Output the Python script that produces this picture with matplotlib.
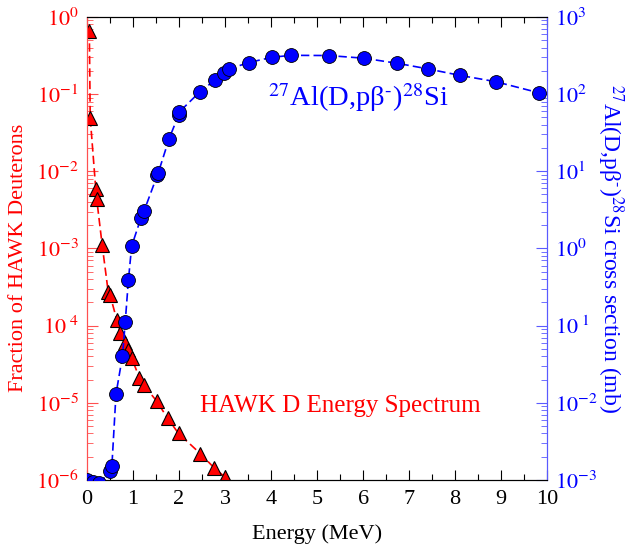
import matplotlib
matplotlib.use("Agg")
from matplotlib import pyplot as plt
from matplotlib import ticker
import numpy as np

plt.rcParams['font.family'] = ['Liberation Serif', 'DejaVu Serif']
plt.rcParams['mathtext.fontset'] = 'stix'

# HAWK deuteron energy spectrum (fraction, left axis)
d_energy = [0.05, 0.07, 0.19, 0.21, 0.33, 0.46, 0.50, 0.65, 0.72, 0.83, 0.90,
            0.97, 1.14, 1.23, 1.52, 1.75, 1.99, 2.46, 2.76, 2.99, 3.5]
d_fraction = [0.66, 0.049, 5.9e-3, 4.4e-3, 1.1e-3, 2.75e-4, 2.5e-4, 1.17e-4,
              8.1e-5, 5.9e-5, 4.8e-5, 3.8e-5, 2.1e-5, 1.7e-5, 1.04e-5, 6.3e-6,
              4.0e-6, 2.2e-6, 1.44e-6, 1.1e-6, 4.5e-7]

# 27Al(D,p beta-)28Si cross section (mb, right axis)
xs_energy = [0.0, 0.13, 0.27, 0.50, 0.54, 0.63, 0.77, 0.83, 0.90, 0.97, 1.17,
             1.24, 1.53, 1.55, 1.78, 1.99, 2.01, 2.46, 2.79, 2.98, 3.08, 3.51,
             4.02, 4.44, 5.25, 6.01, 6.74, 7.41, 8.10, 8.88, 9.82]
xs_mb = [1.0e-3, 9.5e-4, 9.0e-4, 1.3e-3, 1.5e-3, 0.013, 0.040, 0.11, 0.39,
         1.07, 2.46, 3.06, 8.97, 9.6, 26, 53.7, 59, 108, 153, 190, 210, 256,
         300, 318, 316, 292, 251, 212, 175, 145, 104]

left_ticks = [1e-6, 1e-5, 1e-4, 1e-3, 1e-2, 1e-1, 1e0]
left_labels = [r'$10^{-6}$', r'$10^{-5}$', r'$10^{\ 4}$', r'$10^{-3}$',
               r'$10^{-2}$', r'$10^{-1}$', r'$10^{0}$']
right_ticks = [1e-3, 1e-2, 1e-1, 1e0, 1e1, 1e2, 1e3]
right_labels = [r'$10^{-3}$', r'$10^{-2}$', r'$10^{\ 1}$', r'$10^{0}$',
                r'$10^{1}$', r'$10^{2}$', r'$10^{3}$']

reaction = r'$^{27}$Al(D,pβ$^{\text{-}}$)$^{28}$Si'

red = '#ff0000'
blue = '#0000ff'
light_red = '#ff5050'
light_blue = '#5a5aff'

fig = plt.figure(figsize=(6.26, 5.46), dpi=100)
ax = fig.add_axes([0.139, 0.121, 0.735, 0.848])
ax2 = ax.twinx()

ax.plot(d_energy, d_fraction, color=red, lw=1.2, ls=(0, (5, 2.5)),
        marker='^', ms=9.5, mfc=red, mec='black', mew=0.8, zorder=3)
ax2.plot(xs_energy, xs_mb, color=blue, lw=1.2, ls=(0, (5, 2.5)),
         marker='o', ms=10, mfc=blue, mec='black', mew=0.6, zorder=3)

ax.set_xlim(0, 10)
ax.set_yscale('log')
ax.set_ylim(1e-6, 1e0)
ax2.set_yscale('log')
ax2.set_ylim(1e-3, 1e3)

ax.xaxis.set_major_locator(ticker.MultipleLocator(1))
ax.xaxis.set_minor_locator(ticker.MultipleLocator(0.5))
ax.set_yticks(left_ticks)
ax.set_yticklabels(left_labels)
ax.yaxis.set_minor_locator(ticker.LogLocator(base=10, subs=np.arange(2, 10)))
ax.yaxis.set_minor_formatter(ticker.NullFormatter())
ax2.set_yticks(right_ticks)
ax2.set_yticklabels(right_labels)
ax2.yaxis.set_minor_locator(ticker.LogLocator(base=10, subs=np.arange(2, 10)))
ax2.yaxis.set_minor_formatter(ticker.NullFormatter())

ax.tick_params(axis='x', which='both', direction='in', top=True,
               labelsize=16, colors='black', pad=7)
ax.tick_params(axis='x', which='major', length=7, width=0.8)
ax.tick_params(axis='x', which='minor', length=4, width=0.8)
ax.tick_params(axis='y', which='both', direction='in', colors=light_red,
               labelcolor=red, labelsize=16, pad=6)
ax.tick_params(axis='y', which='major', length=8)
ax.tick_params(axis='y', which='minor', length=4)
ax2.tick_params(axis='y', which='both', direction='in', colors=light_blue,
                labelcolor=blue, labelsize=16, pad=6)
ax2.tick_params(axis='y', which='major', length=8)
ax2.tick_params(axis='y', which='minor', length=4)

ax2.spines['left'].set_color(light_red)
ax2.spines['right'].set_color(light_blue)
ax.spines['left'].set_color(light_red)
ax.spines['right'].set_color(light_blue)

ax.set_xlabel('Energy (MeV)', fontsize=16, labelpad=11)
ax.set_ylabel('Fraction of HAWK Deuterons', fontsize=16, color=red)
ax.yaxis.set_label_coords(-0.128, 0.48)
ax2.set_ylabel(reaction + ' cross section (mb)',
               fontsize=17, color=blue, rotation=-90, labelpad=20)

ax.text(0.59, 0.825, reaction, transform=ax.transAxes,
        fontsize=20.5, color=blue, ha='center', va='center')
ax.text(0.55, 0.16, 'HAWK D Energy Spectrum', transform=ax.transAxes,
        fontsize=18, color=red, ha='center', va='center')

fig.savefig('out.png', dpi=100)
